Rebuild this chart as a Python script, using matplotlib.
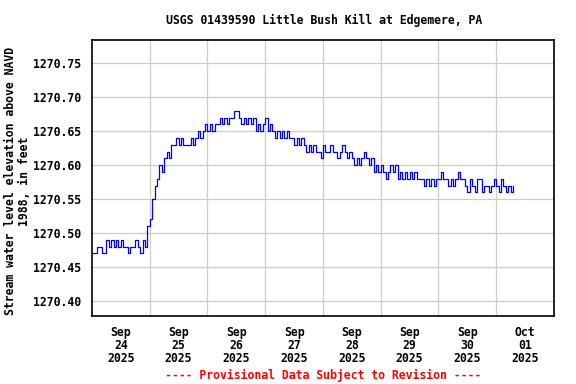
import numpy as np
import pandas as pd
import matplotlib
matplotlib.use("Agg")
import matplotlib.pyplot as plt
import matplotlib.dates as mdates

# hourly gage heights, starting Sep 24 2025 00:00
start_time = "2025-09-24 00:00"
elevation = [
    1270.47, 1270.47, 1270.48, 1270.48, 1270.47, 1270.47, 1270.49, 1270.48,
    1270.49, 1270.48, 1270.49, 1270.48, 1270.49, 1270.48, 1270.48, 1270.47,
    1270.48, 1270.48, 1270.49, 1270.48, 1270.47, 1270.49, 1270.48,
    1270.51, 1270.52, 1270.55, 1270.57, 1270.58, 1270.60, 1270.59, 1270.61,
    1270.62, 1270.61,
    1270.63, 1270.63, 1270.64, 1270.63, 1270.64, 1270.63, 1270.63, 1270.63,
    1270.64, 1270.63, 1270.64, 1270.65, 1270.64, 1270.65, 1270.66, 1270.65,
    1270.66, 1270.65, 1270.66, 1270.66, 1270.67, 1270.66, 1270.67, 1270.66,
    1270.67, 1270.67, 1270.68, 1270.68, 1270.67, 1270.66, 1270.67, 1270.66,
    1270.67, 1270.66, 1270.67, 1270.65, 1270.66, 1270.65, 1270.66, 1270.67,
    1270.65, 1270.66, 1270.65, 1270.64, 1270.65, 1270.64, 1270.65, 1270.64,
    1270.65, 1270.64, 1270.64, 1270.63, 1270.64, 1270.63, 1270.64, 1270.63,
    1270.62, 1270.63, 1270.62, 1270.63, 1270.62, 1270.62, 1270.61, 1270.63,
    1270.62, 1270.62, 1270.63, 1270.62, 1270.62, 1270.61, 1270.62, 1270.63,
    1270.62, 1270.61, 1270.62, 1270.61, 1270.60, 1270.61, 1270.60, 1270.61,
    1270.62, 1270.61, 1270.60, 1270.61, 1270.59, 1270.60, 1270.59, 1270.60,
    1270.59, 1270.58, 1270.59, 1270.60, 1270.59, 1270.60, 1270.58, 1270.59,
    1270.58, 1270.59, 1270.58, 1270.59, 1270.58, 1270.59, 1270.58, 1270.58,
    1270.58, 1270.57, 1270.58, 1270.57, 1270.58, 1270.57, 1270.58, 1270.58,
    1270.59, 1270.58, 1270.58, 1270.57, 1270.58, 1270.57, 1270.58, 1270.59,
    1270.58, 1270.58, 1270.57, 1270.56,
    1270.58, 1270.57, 1270.56, 1270.58, 1270.58, 1270.56, 1270.57, 1270.57,
    1270.56, 1270.57, 1270.58, 1270.57, 1270.56, 1270.58, 1270.57, 1270.56,
    1270.57, 1270.56, 1270.57,
]
y_ticks = [1270.40, 1270.45, 1270.50, 1270.55, 1270.60, 1270.65, 1270.70, 1270.75]
day_labels = ["Sep\n24\n2025", "Sep\n25\n2025", "Sep\n26\n2025", "Sep\n27\n2025",
              "Sep\n28\n2025", "Sep\n29\n2025", "Sep\n30\n2025", "Oct\n01\n2025"]

title = "USGS 01439590 Little Bush Kill at Edgemere, PA"
ylabel = "Stream water level elevation above NAVD\n1988, in feet"
footer = "---- Provisional Data Subject to Revision ----"

times = pd.date_range(start_time, periods=len(elevation), freq="h")

plt.rcParams["font.family"] = "DejaVu Sans Mono"
plt.rcParams["font.weight"] = "bold"

fig = plt.figure(figsize=(5.76, 3.84), dpi=100)
ax = fig.add_axes([0.1597, 0.177, 0.8021, 0.7188])

ax.plot(times, elevation, color="#0000ff", lw=0.9, drawstyle="steps-post")

# day boundaries as gridlines, labels in the middle of each day
day0 = pd.Timestamp("2025-09-24")
ax.set_xlim(day0, day0 + pd.Timedelta(days=8))
ax.set_xticks([day0 + pd.Timedelta(days=i) for i in range(1, 8)])
ax.set_xticklabels([])
ax.set_xticks([day0 + pd.Timedelta(days=i, hours=12) for i in range(8)], minor=True)
ax.set_xticklabels(day_labels, minor=True, fontsize=8.3, fontweight="bold",
                   linespacing=1.0)
ax.tick_params(axis="x", which="both", length=0, pad=7)

ax.set_ylim(1270.378, 1270.784)
ax.set_yticks(y_ticks)
ax.set_yticklabels(["%.2f" % v for v in y_ticks], fontsize=8.3, fontweight="bold")
ax.tick_params(axis="y", length=0, pad=8)

ax.grid(True, which="major", color="#cccccc", lw=0.9)
ax.set_axisbelow(True)
for s in ax.spines.values():
    s.set_linewidth(1.2)
    s.set_color("black")

fig.text(17.5 / 576, 1 - 181 / 384, ylabel, rotation=90, ha="center", va="center",
         fontsize=8.3, fontweight="bold", linespacing=1.0, multialignment="center")
fig.text(0.562, 0.948, title, ha="center", va="center", fontsize=8.3, fontweight="bold")
fig.text(0.561, 0.023, footer, ha="center", va="center", fontsize=8.3,
         fontweight="bold", color="red")

fig.savefig("out.png", dpi=100)
